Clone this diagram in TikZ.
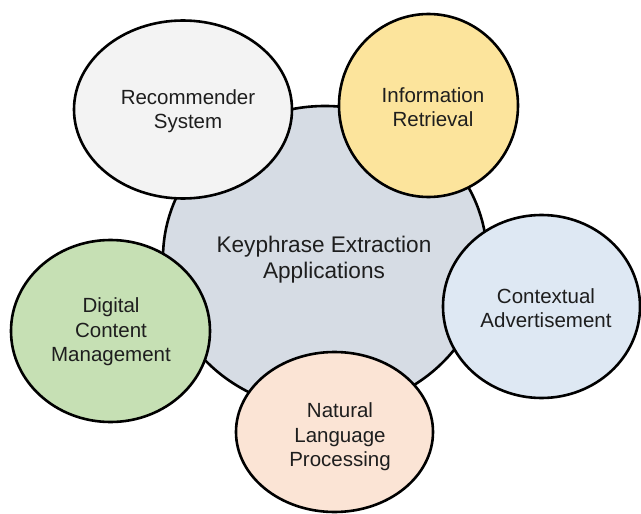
\documentclass[tikz,border=0pt]{standalone}
\usepackage{fontspec}
\setmainfont{Liberation Sans}
\usetikzlibrary{shapes.geometric}
\definecolor{cgray}{HTML}{D6DCE4}
\definecolor{crec}{HTML}{F3F3F3}
\definecolor{cinf}{HTML}{FCE49C}
\definecolor{cctx}{HTML}{DEE8F3}
\definecolor{cdig}{HTML}{C6E0B4}
\definecolor{cnlp}{HTML}{FBE4D5}
\definecolor{ctext}{HTML}{1E1E1E}
\tikzset{
  bubble/.style={ellipse, draw=black, line width=2.6pt, inner sep=0pt},
  lbl/.style={align=center, text=ctext, font=\fontsize{20.5}{24.5}\selectfont, inner sep=0pt},
  clbl/.style={align=center, text=ctext, font=\fontsize{22.6}{26}\selectfont, inner sep=0pt}
}
\begin{document}
\begin{tikzpicture}[x=1pt,y=-1pt]
\useasboundingbox (0,0) rectangle (641,514);
\node[bubble, fill=cgray, minimum width=324pt, minimum height=304pt] (center) at (325,258) {};
\node[bubble, fill=crec, minimum width=218pt, minimum height=178pt] (rec) at (183,109.5) {};
\node[bubble, fill=cinf, minimum width=179pt, minimum height=183pt] (inf) at (428.5,105.5) {};
\node[bubble, fill=cctx, minimum width=197pt, minimum height=183pt] (ctx) at (541.5,306.5) {};
\node[bubble, fill=cdig, minimum width=199pt, minimum height=182pt] (dig) at (110.5,331) {};
\node[bubble, fill=cnlp, minimum width=197pt, minimum height=160pt] (nlp) at (334.5,432) {};
\node[clbl] (centert) at (324,260) {Keyphrase Extraction\\Applications};
\node[lbl] (rect) at (188,111) {Recommender\\System};
\node[lbl] (inft) at (433,107) {Information\\Retrieval};
\node[lbl] (ctxt) at (546,308) {Contextual\\Advertisement};
\node[lbl] (digt) at (111,332) {Digital\\Content\\Management};
\node[lbl] (nlpt) at (340,437) {Natural\\Language\\Processing};
\end{tikzpicture}
\end{document}
